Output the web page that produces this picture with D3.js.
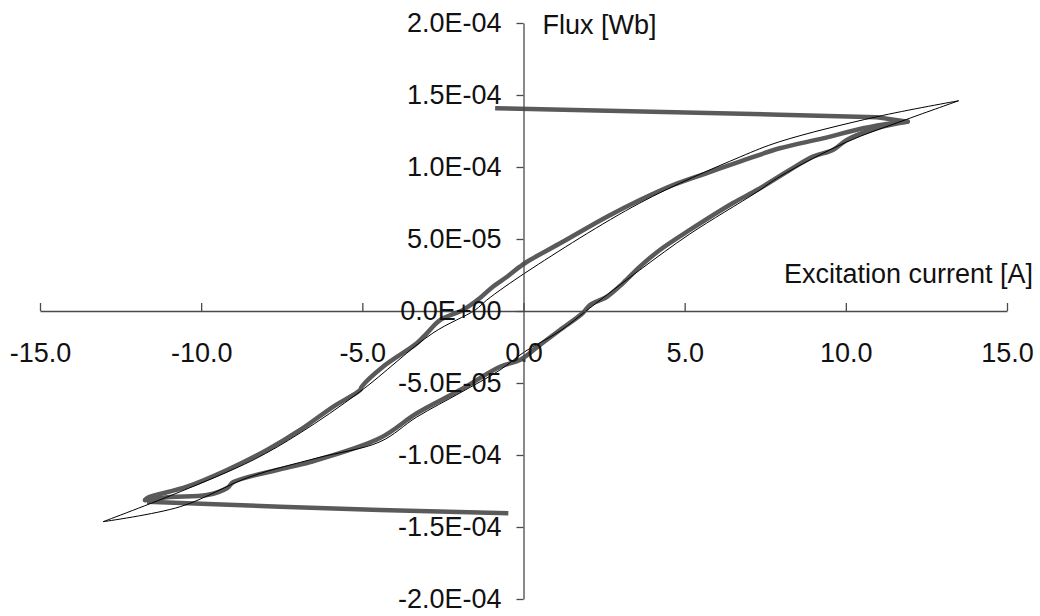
<!DOCTYPE html>
<html>
<head>
<meta charset="utf-8">
<script src="https://cdn.jsdelivr.net/npm/d3@7"></script>
<style>
  body { margin: 0; background: #fff; }
  text { font-family: "Liberation Sans", Arial, sans-serif; }
</style>
</head>
<body>
<svg id="chart"></svg>
<script>
// Chart size
const width = 1040;
const height = 616;

const MEASURED_COLOR = "#5a5a5a";
const MODEL_COLOR = "#000000";
const AXIS_COLOR = "#4a4a4a";

// Tick values and their labels
const xTicks = [-15, -10, -5, 0, 5, 10, 15];
const xTickLabels = ["-15.0", "-10.0", "-5.0", "0.0", "5.0", "10.0", "15.0"];
const yTicks = [2e-4, 1.5e-4, 1e-4, 5e-5, 0, -5e-5, -1e-4, -1.5e-4, -2e-4];
const yTickLabels = ["2.0E-04", "1.5E-04", "1.0E-04", "5.0E-05", "0.0E+00",
  "-5.0E-05", "-1.0E-04", "-1.5E-04", "-2.0E-04"];

// Measured loop, [current A, flux Wb]
// descending branch (from positive tip down to negative tip)
const measuredDown = [
  [11.92, 1.315e-4], [11.36, 1.303e-4], [10.53, 1.269e-4], [9.29, 1.199e-4],
  [7.95, 1.130e-4], [6.71, 1.037e-4], [5.69, 0.958e-4], [4.64, 0.875e-4],
  [3.61, 0.771e-4], [2.59, 0.655e-4], [1.22, 0.481e-4], [0.11, 0.342e-4],
  [-0.11, 0.308e-4], [-0.51, 0.238e-4], [-0.95, 0.169e-4], [-1.35, 0.090e-4],
  [-1.88, 0.007e-4], [-2.59, -0.063e-4], [-3.00, -0.155e-4], [-3.31, -0.224e-4],
  [-4.36, -0.387e-4], [-5.02, -0.526e-4], [-5.07, -0.549e-4], [-5.91, -0.665e-4],
  [-6.93, -0.826e-4], [-7.96, -0.965e-4], [-9.20, -1.104e-4], [-10.44, -1.220e-4],
  [-11.68, -1.299e-4], [-11.74, -1.313e-4]
];
// ascending branch (from negative tip up to positive tip)
const measuredUp = [
  [-11.74, -1.313e-4], [-10.96, -1.292e-4], [-9.82, -1.278e-4], [-9.19, -1.229e-4],
  [-9.00, -1.188e-4], [-7.64, -1.104e-4], [-6.62, -1.049e-4], [-4.45, -0.882e-4],
  [-3.31, -0.710e-4], [-1.97, -0.549e-4], [-0.73, -0.387e-4], [-0.11, -0.340e-4],
  [0.51, -0.236e-4], [1.13, -0.132e-4], [1.84, -0.014e-4], [2.06, 0.042e-4],
  [2.59, 0.099e-4], [3.09, 0.194e-4], [3.61, 0.308e-4], [4.23, 0.424e-4],
  [5.16, 0.563e-4], [6.50, 0.750e-4], [7.24, 0.840e-4], [8.26, 0.979e-4],
  [8.98, 1.072e-4], [9.60, 1.118e-4], [10.03, 1.188e-4], [10.96, 1.269e-4],
  [11.92, 1.315e-4]
];
// the two flat spikes back towards zero current
const measuredSpikeTop = [[-0.88, 1.408e-4], [7.95, 1.363e-4], [10.96, 1.346e-4], [11.92, 1.315e-4]];
const measuredSpikeBottom = [[-11.68, -1.324e-4], [-7.55, -1.359e-4], [-4.45, -1.382e-4], [-0.47, -1.405e-4]];

// Model loop (thin line)
const modelDown = [
  [13.50, 1.460e-4], [10.96, 1.349e-4], [7.95, 1.176e-4], [6.71, 1.069e-4],
  [3.61, 0.750e-4], [0.11, 0.273e-4], [-1.14, 0.076e-4], [-1.50, 0.007e-4],
  [-2.81, -0.153e-4], [-5.07, -0.560e-4], [-6.93, -0.847e-4], [-8.39, -1.035e-4],
  [-10.65, -1.255e-4], [-13.04, -1.463e-4]
];
const modelUp = [
  [-13.04, -1.463e-4], [-10.65, -1.359e-4], [-8.48, -1.151e-4], [-6.41, -1.021e-4],
  [-4.45, -0.908e-4], [-3.31, -0.736e-4], [-1.97, -0.569e-4], [-0.73, -0.410e-4],
  [0.02, -0.285e-4], [1.13, -0.139e-4], [2.06, 0.021e-4], [3.61, 0.285e-4],
  [5.16, 0.535e-4], [7.24, 0.826e-4], [7.95, 0.933e-4], [10.03, 1.174e-4],
  [11.89, 1.331e-4], [13.50, 1.460e-4]
];

const svg = d3.select("#chart")
  .attr("width", width)
  .attr("height", height);

// Scales
const x = d3.scaleLinear().domain([-15, 15]).range([40, 1007]);
const y = d3.scaleLinear().domain([-2e-4, 2e-4]).range([599, 23]);

const line = d3.line()
  .x(d => x(d[0]))
  .y(d => y(d[1]))
  .curve(d3.curveCatmullRom.alpha(0.5));

const straight = d3.line()
  .x(d => x(d[0]))
  .y(d => y(d[1]));

// Measured data, thick gray
[measuredSpikeTop, measuredSpikeBottom].forEach(series => {
  svg.append("path")
    .datum(series)
    .attr("d", straight)
    .attr("fill", "none")
    .attr("stroke", MEASURED_COLOR)
    .attr("stroke-width", 4.5)
    .attr("stroke-linejoin", "round");
});
[measuredDown, measuredUp].forEach(series => {
  svg.append("path")
    .datum(series)
    .attr("d", line)
    .attr("fill", "none")
    .attr("stroke", MEASURED_COLOR)
    .attr("stroke-width", 4.5)
    .attr("stroke-linejoin", "round")
    .attr("stroke-linecap", "round");
});

// Model, thin black
[modelDown, modelUp].forEach(series => {
  svg.append("path")
    .datum(series)
    .attr("d", line)
    .attr("fill", "none")
    .attr("stroke", MODEL_COLOR)
    .attr("stroke-width", 1);
});

// X axis through flux = 0, ticks pointing up, labels below
const xAxis = svg.append("g")
  .attr("transform", `translate(0,${y(0)})`)
  .call(d3.axisBottom(x)
    .tickValues(xTicks)
    .tickFormat((d, i) => xTickLabels[i])
    .tickSizeInner(-8)
    .tickSizeOuter(0)
    .tickPadding(32));

// Y axis through current = 0
const yAxis = svg.append("g")
  .attr("transform", `translate(${x(0)},0)`)
  .call(d3.axisLeft(y)
    .tickValues(yTicks)
    .tickFormat((d, i) => yTickLabels[i])
    .tickSizeInner(7)
    .tickSizeOuter(0)
    .tickPadding(15));

[xAxis, yAxis].forEach(g => {
  g.selectAll("path, line").attr("stroke", AXIS_COLOR).attr("stroke-width", 1.3);
  g.selectAll("text")
    .attr("fill", "#111")
    .style("font-size", "27px")
    .style("font-family", "'Liberation Sans', Arial, sans-serif");
});

// Axis titles
svg.append("text")
  .attr("x", x(0) + 19)
  .attr("y", 34)
  .attr("fill", "#111")
  .style("font-size", "27px")
  .text("Flux [Wb]");

svg.append("text")
  .attr("x", 1033)
  .attr("y", 283)
  .attr("text-anchor", "end")
  .attr("fill", "#111")
  .style("font-size", "27px")
  .text("Excitation current [A]");
</script>
</body>
</html>
